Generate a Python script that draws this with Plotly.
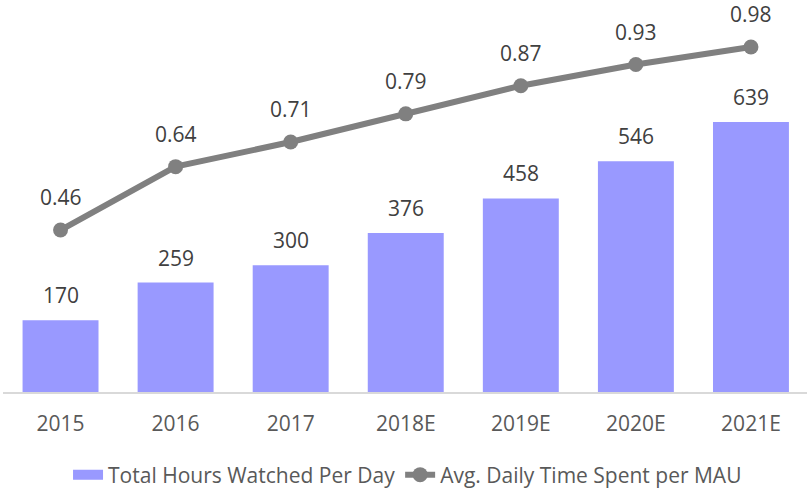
import plotly.graph_objects as go

years = ["2015", "2016", "2017", "2018E", "2019E", "2020E", "2021E"]
hours = [170, 259, 300, 376, 458, 546, 639]
time_per_mau = [0.46, 0.64, 0.71, 0.79, 0.87, 0.93, 0.98]

bar_color = "#9999FF"
line_color = "#808080"
label_color = "#404040"
tick_color = "#595959"
font_family = "Open Sans, Roboto, sans-serif"
fs = 21

fig = go.Figure()
fig.add_trace(go.Bar(
    x=years, y=hours, name="Total Hours Watched Per Day",
    marker=dict(color=bar_color, line=dict(width=0)),
    yaxis="y", showlegend=False,
))
# legend swatch for the bars (wide rectangle, as in the reference)
fig.add_trace(go.Scatter(
    x=[None], y=[None], name="Total Hours Watched Per Day",
    mode="lines", line=dict(color=bar_color, width=13),
    yaxis="y", showlegend=True,
))
fig.add_trace(go.Scatter(
    x=years, y=time_per_mau, name="Avg. Daily Time Spent per MAU",
    mode="lines+markers",
    line=dict(color=line_color, width=6),
    marker=dict(color=line_color, size=15),
    yaxis="y2",
))

annotations = []
for i, v in enumerate(hours):
    annotations.append(dict(x=i, y=v, xref="x", yref="y", text=str(v),
                            showarrow=False, yshift=25,
                            font=dict(size=fs, color=label_color, family=font_family)))
for i, v in enumerate(time_per_mau):
    annotations.append(dict(x=i, y=v, xref="x", yref="y2", text=f"{v:.2f}",
                            showarrow=False, yshift=33,
                            font=dict(size=fs, color=label_color, family=font_family)))

fig.update_layout(
    width=807, height=489,
    margin=dict(l=3, r=0, t=10, b=97, autoexpand=False),
    paper_bgcolor="white", plot_bgcolor="white",
    bargap=0.34,
    font=dict(family=font_family, size=fs, color=tick_color),
    xaxis=dict(type="category", showgrid=False, showline=True, linecolor="#D9D9D9", linewidth=2,
               ticks="", ticklabelstandoff=12, range=[-0.5, 6.487], automargin=False,
               tickfont=dict(size=fs, color=tick_color)),
    yaxis=dict(range=[0, 904], visible=False, showgrid=False, automargin=False),
    yaxis2=dict(range=[0, 1.085], overlaying="y", side="right", visible=False,
                showgrid=False, automargin=False),
    legend=dict(orientation="h", x=0.505, xanchor="center", xref="container",
                y=1 - 475 / 489, yanchor="middle", yref="container",
                font=dict(size=fs, color=tick_color), tracegroupgap=0,
                bgcolor="rgba(0,0,0,0)"),
    showlegend=True,
    annotations=annotations,
)

fig.write_html("out.html", config={"displayModeBar": False},
               post_script="document.body.style.margin='0px';")
